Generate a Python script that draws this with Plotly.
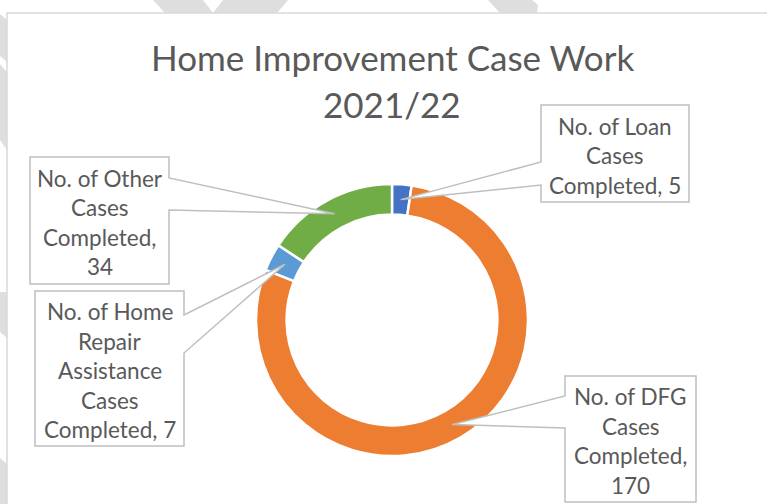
import math
import plotly.graph_objects as go

# ---- data ----
categories = [
    "No. of Loan Cases Completed",
    "No. of DFG Cases Completed",
    "No. of Home Repair Assistance Cases Completed",
    "No. of Other Cases Completed",
]
values = [5, 170, 7, 34]
colors = ["#4472C4", "#ED7D31", "#5B9BD5", "#70AD47"]
label_lines = [
    ["No. of Loan", "Cases", "Completed, 5"],
    ["No. of DFG", "Cases", "Completed,", "170"],
    ["No. of Home", "Repair", "Assistance", "Cases", "Completed, 7"],
    ["No. of Other", "Cases", "Completed,", "34"],
]
title_lines = ["Home Improvement Case Work", "2021/22"]

W, H = 767, 504
FONT = "Lato"
TXT = "#595959"
BORDER = "#BFBFBF"


def px(x):
    return x / W


def py(y):
    return 1 - y / H


# pie geometry (pixels)
CX, CY, R = 392, 320, 136
HOLE = 0.775
R_MID = R * (1 + HOLE) / 2

fig = go.Figure()
fig.add_trace(go.Pie(
    labels=categories,
    values=values,
    marker=dict(colors=colors, line=dict(color="white", width=2.5)),
    hole=HOLE,
    sort=False,
    direction="clockwise",
    rotation=0,
    textinfo="none",
    hoverinfo="label+value",
    showlegend=False,
    domain=dict(x=[px(CX - R), px(CX + R)], y=[py(CY + R), py(CY - R)]),
))

shapes = []
# background watermark stripes (outside chart area)
wm = "#DEDEDE"
wm_polys = [
    [(153, 0), (203, 0), (213, 13), (165, 13)],
    [(223, 0), (288, 0), (277, 13), (213, 13)],
    [(488, 0), (532, 0), (538, 5), (537, 13), (500, 13)],
    [(0, 14), (7, 20), (7, 62), (0, 56)],
    [(0, 64), (7, 72), (7, 150), (0, 140)],
    [(0, 292), (7, 292), (7, 338), (0, 332)],
    [(0, 458), (7, 464), (7, 504), (0, 504)],
]
for poly in wm_polys:
    d = "M " + " L ".join(f"{px(x)},{py(y)}" for x, y in poly) + " Z"
    shapes.append(dict(type="path", xref="paper", yref="paper", path=d,
                       fillcolor=wm, line=dict(width=0), layer="below"))

# chart area frame
shapes.append(dict(type="rect", xref="paper", yref="paper",
                   x0=px(7), x1=px(790), y0=py(530), y1=py(13),
                   fillcolor="white", line=dict(color="#D9D9D9", width=1.5),
                   layer="below"))

# callout boxes: (x0, y0, x1, y1, side, wedge_a, wedge_b)
boxes = [
    (541, 105, 689, 202, "left", 162, 185),
    (565, 376, 696, 502, "left", 396, 428),
    (35, 291, 184, 446, "right", 315, 353),
    (30, 157, 169, 284, "right", 178, 210),
]

total = sum(values)
cum = 0
annotations = []
LS = 29.5
for i, v in enumerate(values):
    mid = (cum + v / 2) / total * 2 * math.pi
    cum += v
    tx = CX + R_MID * math.sin(mid)
    ty = CY - R_MID * math.cos(mid)
    x0, y0, x1, y1, side, wa, wb = boxes[i]
    if side == "left":
        pts = [(x0, y0), (x1, y0), (x1, y1), (x0, y1), (x0, wb), (tx, ty), (x0, wa)]
    else:
        pts = [(x0, y0), (x1, y0), (x1, wa), (tx, ty), (x1, wb), (x1, y1), (x0, y1)]
    d = "M " + " L ".join(f"{px(x)},{py(y)}" for x, y in pts) + " Z"
    shapes.append(dict(type="path", xref="paper", yref="paper", path=d,
                       fillcolor="white", line=dict(color=BORDER, width=1.5),
                       layer="above"))
    lines = label_lines[i]
    cy = (y0 + y1) / 2 + 2
    n = len(lines)
    for k, t in enumerate(lines):
        yy = cy + (k - (n - 1) / 2) * LS
        annotations.append(dict(
            text=t, xref="paper", yref="paper", x=px((x0 + x1) / 2), y=py(yy),
            xanchor="center", yanchor="middle", showarrow=False,
            font=dict(family=FONT, size=22.5, color=TXT)))

for t, yy in zip(title_lines, [57, 104]):
    annotations.append(dict(
        text=t, xref="paper", yref="paper", x=px(392), y=py(yy),
        xanchor="center", yanchor="middle", showarrow=False,
        font=dict(family=FONT, size=35, color=TXT)))

fig.update_layout(
    width=W, height=H,
    margin=dict(l=0, r=0, t=0, b=0),
    paper_bgcolor="white",
    plot_bgcolor="white",
    shapes=shapes,
    annotations=annotations,
    showlegend=False,
)

fig.write_html(
    "out.html",
    config={"displayModeBar": False},
    post_script="document.body.style.margin='0';document.body.style.overflow='hidden';",
)
